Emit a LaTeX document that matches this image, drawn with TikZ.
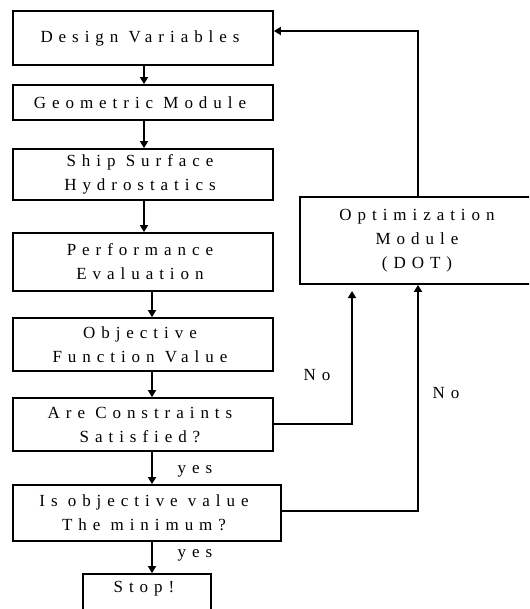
\documentclass[tikz,border=0pt]{standalone}
\usepackage{fontspec}
\setmainfont{Liberation Serif}[LetterSpace=35]
\usetikzlibrary{arrows.meta}
\begin{document}
\begin{tikzpicture}[x=1pt,y=-1pt,
  box/.style={draw,line width=1.8pt,inner sep=0pt},
  lbl/.style={font=\fontsize{17}{24}\selectfont,align=center,xshift=-3pt},
  arr/.style={line width=1.8pt,-{Triangle[length=7pt,width=8pt]}},
  ln/.style={line width=1.8pt}]
\useasboundingbox (0,0) rectangle (529,609);
\clip (0,0) rectangle (529,609);
\node[box,minimum width=260pt,minimum height=54pt] (dv) at (143,38) {};
\node[lbl] at (dv.center) {Design Variables};
\node[box,minimum width=260pt,minimum height=35pt] (gm) at (143,102.5) {};
\node[lbl] at (gm.center) {Geometric Module};
\node[box,minimum width=260pt,minimum height=51pt] (ss) at (143,174.5) {};
\node[lbl] at (ss.center) {Ship Surface\\Hydrostatics};
\node[box,minimum width=260pt,minimum height=58pt] (pe) at (143,262) {};
\node[lbl] at (pe.center) {Performance\\Evaluation};
\node[box,minimum width=260pt,minimum height=53pt] (of) at (143,344.5) {};
\node[lbl] at (of.center) {Objective\\Function Value};
\node[box,minimum width=260pt,minimum height=53pt] (ac) at (143,424.5) {};
\node[lbl] at (ac.center) {Are Constraints\\Satisfied?};
\node[box,minimum width=268pt,minimum height=56pt] (io) at (147,513) {};
\node[lbl] at (io.center) {Is objective value\\The minimum?};
\node[box,minimum width=128pt,minimum height=40pt] (st) at (147,594) {};
\node[lbl,anchor=north] at (147,578) {Stop!};
\node[box,minimum width=240pt,minimum height=87pt] (op) at (420,240.5) {};
\node[lbl] at (op.center) {Optimization\\Module\\(DOT)};
% main flow
\draw[arr] (dv.south -| 144,0) -- (gm.north -| 144,0);
\draw[arr] (gm.south -| 144,0) -- (ss.north -| 144,0);
\draw[arr] (ss.south -| 144,0) -- (pe.north -| 144,0);
\draw[arr] (pe.south -| 152,0) -- (of.north -| 152,0);
\draw[arr] (of.south -| 152,0) -- (ac.north -| 152,0);
\draw[arr] (ac.south -| 152,0) -- (io.north -| 152,0);
\draw[arr] (io.south -| 152,0) -- (st.north -| 152,0);
% feedback
\coordinate (t1) at (418,31);
\draw[arr] (op.north -| t1) -- (t1) -- (dv.east |- t1);
\coordinate (c1) at (352,424);
\draw[arr] (ac.east |- c1) -- (c1) -- (352,291);
\coordinate (c2) at (418,511);
\draw[arr] (io.east |- c2) -- (c2) -- (op.south -| c2);
% labels
\node[lbl] (no1) at (320,375) {No};
\node[lbl] (no2) at (449,393) {No};
\node[lbl] (y1) at (198,471) {yes};
\node[lbl] (y2) at (198,555) {yes};
\end{tikzpicture}
\end{document}
